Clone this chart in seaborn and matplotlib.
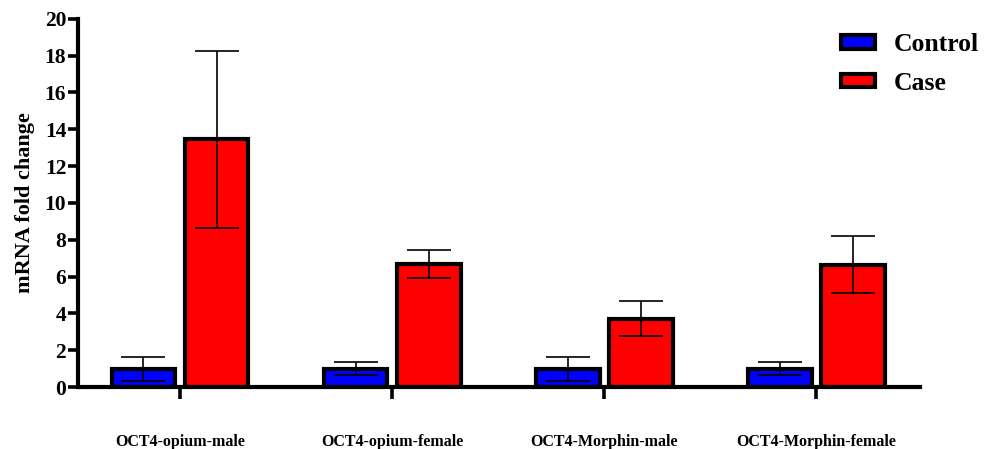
import matplotlib
matplotlib.use("Agg")
import matplotlib.pyplot as plt
import seaborn as sns
import pandas as pd

# Gene expression groups and their measured fold changes
groups = ["OCT4-opium-male", "OCT4-opium-female", "OCT4-Morphin-male", "OCT4-Morphin-female"]
control_mean = [1.0, 1.0, 1.0, 1.0]
control_err = [0.65, 0.35, 0.65, 0.35]
case_mean = [13.45, 6.68, 3.7, 6.65]
case_err = [4.8, 0.75, 0.95, 1.55]
y_ticks = [0, 2, 4, 6, 8, 10, 12, 14, 16, 18, 20]

df = pd.DataFrame({
    "group": groups * 2,
    "condition": ["Control"] * len(groups) + ["Case"] * len(groups),
    "value": control_mean + case_mean,
})
errs = control_err + case_err

sns.set_theme(style="white")
plt.rcParams["font.family"] = ["Liberation Serif", "DejaVu Serif"]
plt.rcParams["font.weight"] = "bold"
plt.rcParams["text.color"] = "black"
plt.rcParams["axes.labelcolor"] = "black"
plt.rcParams["xtick.color"] = "black"
plt.rcParams["ytick.color"] = "black"

fig = plt.figure(figsize=(9.84, 4.49), dpi=100)
ax = fig.add_axes([0.0793, 0.138, 0.856, 0.820])

sns.barplot(
    data=df, x="group", y="value", hue="condition", order=groups,
    hue_order=["Control", "Case"], palette=["#0000FF", "#FF0000"],
    errorbar=None, width=0.69, gap=0.13, edgecolor="black", linewidth=3.0,
    saturation=1.0, ax=ax,
)

# error bars at each bar's centre and top
bars = [p for p in ax.patches if p.get_height() > 0][: len(errs)]
for bar, e in zip(bars, errs):
    cx = bar.get_x() + bar.get_width() / 2
    ax.errorbar(cx, bar.get_height(), yerr=e, fmt="none", ecolor="black",
                elinewidth=1.2, capsize=16, capthick=1.2, zorder=5)

ax.set_ylim(0, 20)
ax.set_xlim(-0.481, 3.49)
ax.set_yticks(y_ticks)
ax.set_yticklabels([str(t) for t in y_ticks], fontsize=15.5, fontweight="bold")
ax.set_xticks(range(len(groups)))
ax.set_xticklabels(groups, fontsize=11.5, fontweight="bold")
ax.set_xlabel("")
ax.set_ylabel("mRNA fold change", fontsize=16, fontweight="bold", labelpad=7)

for side in ["top", "right"]:
    ax.spines[side].set_visible(False)
for side in ["left", "bottom"]:
    ax.spines[side].set_linewidth(3.0)
    ax.spines[side].set_color("black")

ax.tick_params(axis="y", direction="out", length=7, width=2.6, pad=1.5, left=True)
ax.tick_params(axis="x", direction="out", length=8.5, width=2.6, pad=25, bottom=True)

leg = ax.legend(
    loc="upper right", bbox_to_anchor=(1.097, 1.025), frameon=False,
    prop={"size": 18.5, "weight": "bold"}, handlelength=1.3, handleheight=0.45,
    labelspacing=0.62, handletextpad=0.75,
)

fig.savefig("out.png", dpi=100)
